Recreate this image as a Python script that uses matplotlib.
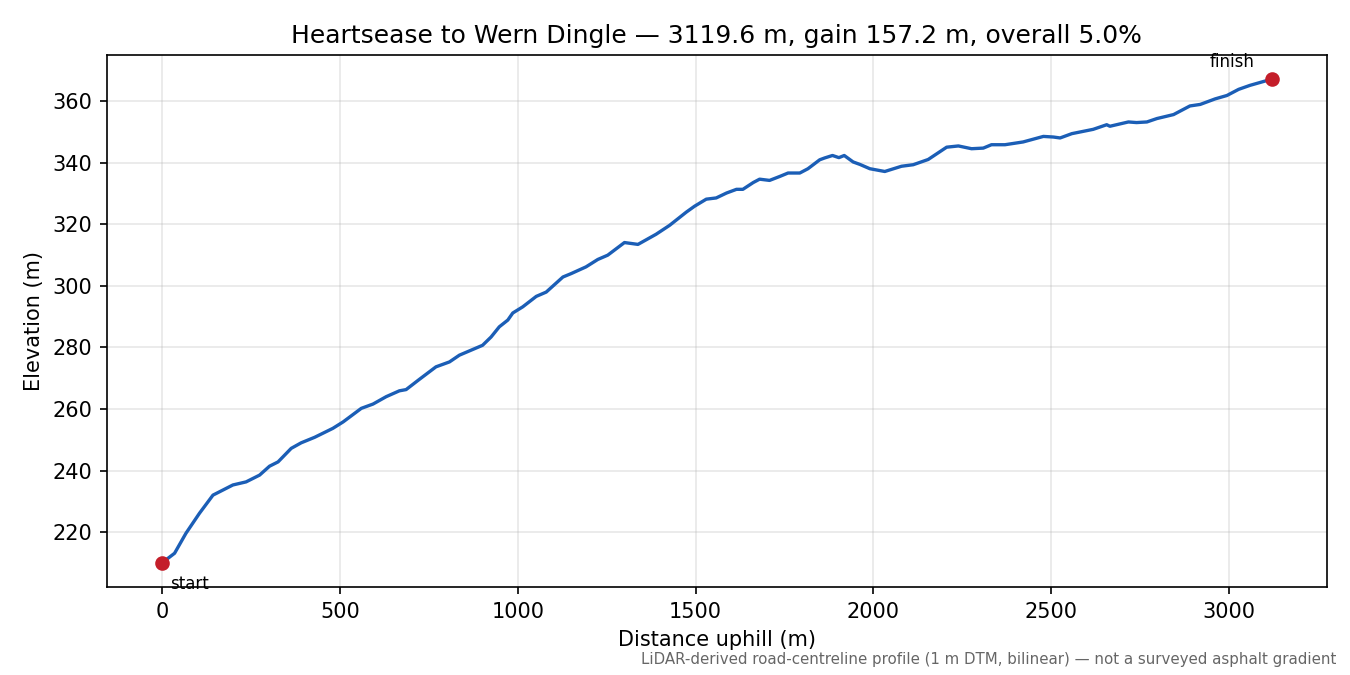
import numpy as np
import matplotlib
matplotlib.use("Agg")
import matplotlib.pyplot as plt

# profile (distance m, elevation m)
dist = [0, 35, 67, 105, 143, 199, 236, 274, 302, 326, 363, 391, 429, 480, 509,
        560, 593, 630, 667, 686, 723, 770, 808, 836, 901, 925, 948, 972, 986,
        1014, 1052, 1080, 1127, 1150, 1192, 1225, 1253, 1300, 1338, 1389, 1427,
        1474, 1497, 1530, 1558, 1587, 1615, 1633, 1662, 1680, 1708, 1737, 1760,
        1793, 1816, 1849, 1863, 1885, 1903, 1918, 1943, 1962, 1990, 2032, 2079,
        2112, 2154, 2206, 2239, 2276, 2309, 2332, 2370, 2421, 2478, 2506, 2525,
        2558, 2618, 2656, 2665, 2717, 2740, 2769, 2797, 2844, 2890, 2919, 2961,
        2994, 3027, 3059, 3119.6]
elev = [210.0, 213.1, 219.6, 226.1, 232.0, 235.3, 236.3, 238.5, 241.4, 242.8,
        247.2, 249.0, 250.8, 253.7, 255.8, 260.2, 261.6, 264.0, 265.9, 266.3,
        269.6, 273.7, 275.3, 277.5, 280.7, 283.4, 286.7, 288.9, 291.2, 293.2,
        296.6, 298.0, 302.9, 304.0, 306.2, 308.6, 310.0, 314.1, 313.5, 316.8,
        319.7, 324.0, 325.9, 328.2, 328.6, 330.2, 331.4, 331.4, 333.6, 334.7,
        334.3, 335.6, 336.7, 336.7, 338.1, 341.0, 341.6, 342.4, 341.7, 342.4,
        340.3, 339.5, 338.1, 337.2, 338.9, 339.4, 341.1, 345.1, 345.5, 344.6,
        344.8, 345.9, 345.9, 346.8, 348.6, 348.4, 348.1, 349.5, 350.9, 352.4,
        351.9, 353.3, 353.1, 353.3, 354.4, 355.7, 358.5, 359.0, 360.8, 361.9,
        363.9, 365.2, 367.2]

title = "Heartsease to Wern Dingle \u2014 3119.6 m, gain 157.2 m, overall 5.0%"
note = "LiDAR-derived road-centreline profile (1 m DTM, bilinear) \u2014 not a surveyed asphalt gradient"

fig, ax = plt.subplots(figsize=(9, 4.5), dpi=150)
fig.subplots_adjust(left=0.079, right=0.983, top=0.9185, bottom=0.1304)

ax.plot(dist, elev, color='#1b5eb6', lw=1.6)
ax.plot([dist[0], dist[-1]], [elev[0], elev[-1]], 'o', color='#c41e2a', ms=6)
ax.annotate('start', (dist[0], elev[0]), xytext=(4, -6), textcoords='offset points',
            ha='left', va='top', fontsize=8)
ax.annotate('finish', (dist[-1], elev[-1]), xytext=(-8, 4), textcoords='offset points',
            ha='right', va='bottom', fontsize=8)

ax.grid(True, alpha=0.3)
ax.set_xlabel('Distance uphill (m)')
ax.set_ylabel('Elevation (m)')
ax.set_title(title)
fig.text(0.99, 0.012, note, ha='right', va='bottom', fontsize=7.2, color='0.4')

fig.savefig('out.png', dpi=150)
